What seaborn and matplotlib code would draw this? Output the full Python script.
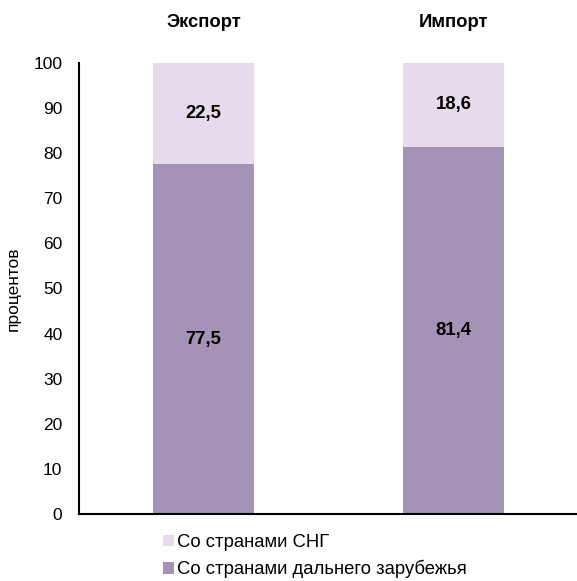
import matplotlib
matplotlib.use("Agg")
import matplotlib.pyplot as plt
import seaborn as sns
import pandas as pd
import numpy as np
from matplotlib.patches import Patch

categories = ["Экспорт", "Импорт"]
cis = [22.5, 18.6]
far_abroad = [77.5, 81.4]
series_names = ["Со странами СНГ", "Со странами дальнего зарубежья"]
yticks = [0, 10, 20, 30, 40, 50, 60, 70, 80, 90, 100]

light = "#E6DAEC"
dark = "#A592B7"

sns.set_theme(style="white")
plt.rcParams['font.family'] = ['Liberation Sans', 'DejaVu Sans']
plt.rcParams['text.color'] = 'black'
plt.rcParams['xtick.color'] = 'black'
plt.rcParams['ytick.color'] = 'black'
plt.rcParams['axes.labelcolor'] = 'black'

fig = plt.figure(figsize=(5.77, 5.81), dpi=100)
ax = fig.add_axes([0.137, 0.1153, 0.861, 0.7763])

df = pd.DataFrame({"cat": categories, "cis": cis, "far": far_abroad})
df["total"] = df["cis"] + df["far"]

sns.barplot(data=df, x="cat", y="total", color=light, width=0.404,
            saturation=1, ax=ax, linewidth=0)
sns.barplot(data=df, x="cat", y="far", color=dark, width=0.404,
            saturation=1, ax=ax, linewidth=0)

for i, (f, c) in enumerate(zip(far_abroad, cis)):
    ax.text(i, f / 2, f"{f:.1f}".replace(".", ","), ha="center", va="center",
            fontsize=13.3, fontweight="bold", color="black")
    ax.text(i, f + c / 2, f"{c:.1f}".replace(".", ","), ha="center", va="center",
            fontsize=13.3, fontweight="bold", color="black")

ax.set_xlim(-0.498, 1.49)
ax.set_ylim(0, 100)
ax.set_yticks(yticks)
ax.set_yticklabels([str(t) for t in yticks], fontsize=12.5)
ax.xaxis.set_ticks_position("top")
ax.tick_params(axis="x", length=0, pad=23, labelsize=13.3)
for lab in ax.get_xticklabels():
    lab.set_fontweight("bold")
ax.tick_params(axis="y", length=0, pad=12)
ax.set_xlabel("")
ax.set_ylabel("процентов", fontsize=12.5, labelpad=9)

for s in ["top", "right"]:
    ax.spines[s].set_visible(False)
for s in ["left", "bottom"]:
    ax.spines[s].set_color("black")
    ax.spines[s].set_linewidth(1.5)

handles = [Patch(facecolor=light, edgecolor="none"),
           Patch(facecolor=dark, edgecolor="none")]
fig.legend(handles, series_names, loc="upper left",
           bbox_to_anchor=(0.2825, 0.081), frameon=False, fontsize=13.3,
           handlelength=0.6, handleheight=0.6, handletextpad=0.15,
           labelspacing=0.5, borderaxespad=0, borderpad=0)

fig.savefig("out.png", dpi=100)
